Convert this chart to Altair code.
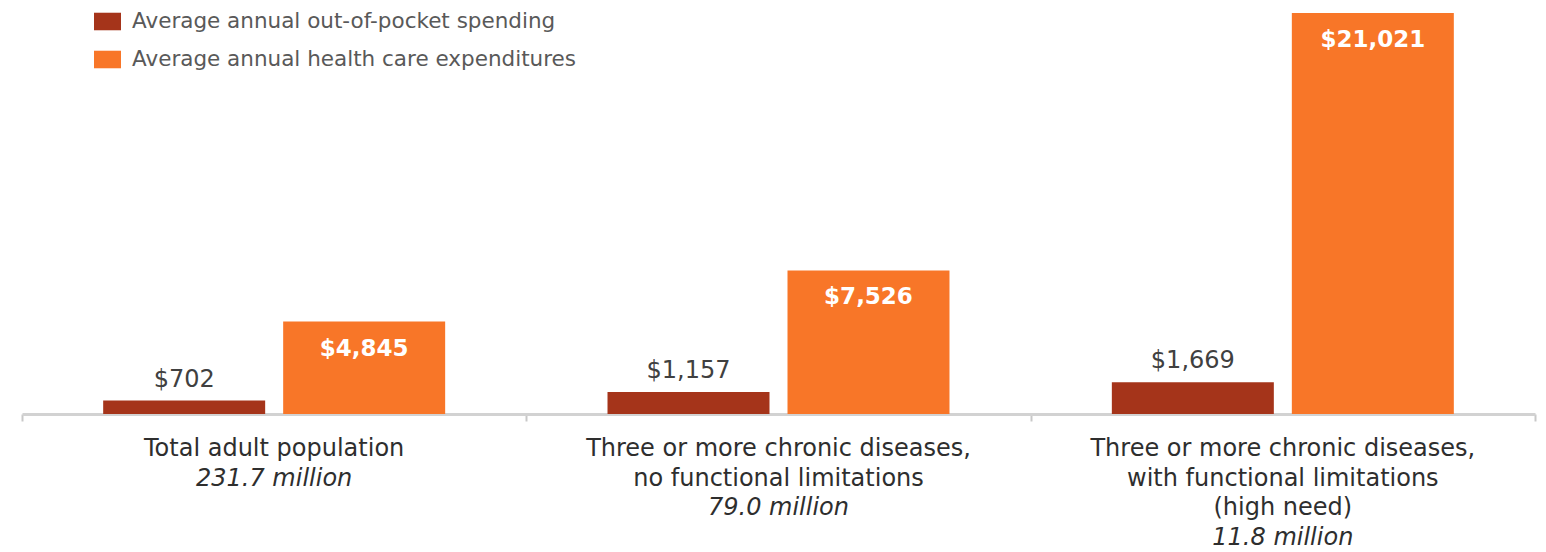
import altair as alt
import pandas as pd

categories = ["Total adult population",
              "Three or more chronic diseases, no functional limitations",
              "Three or more chronic diseases, with functional limitations (high need)"]
category_lines = [["Total adult population"],
                  ["Three or more chronic diseases,", "no functional limitations"],
                  ["Three or more chronic diseases,", "with functional limitations",
                   "(high need)"]]
population = ["231.7 million", "79.0 million", "11.8 million"]
series = ["Average annual out-of-pocket spending",
          "Average annual health care expenditures"]
out_of_pocket = [702, 1157, 1669]
expenditures = [4845, 7526, 21021]
colors = ["#A5341A", "#F87628"]

rows = []
for c, v in zip(categories, out_of_pocket):
    rows.append({"category": c, "series": series[0], "value": v})
for c, v in zip(categories, expenditures):
    rows.append({"category": c, "series": series[1], "value": v})
df = pd.DataFrame(rows)

lab_rows = []
for c, lines, pop in zip(categories, category_lines, population):
    for i, t in enumerate(lines):
        lab_rows.append({"category": c, "line": i, "txt": t, "italic": False})
    lab_rows.append({"category": c, "line": len(lines), "txt": pop, "italic": True})
labels = pd.DataFrame(lab_rows)

FONT = "DejaVu Sans"

x_enc = alt.X("category:N", sort=categories, title=None,
              scale=alt.Scale(paddingInner=0, paddingOuter=0),
              axis=alt.Axis(labels=False, domain=True, domainColor="#d2d2d2",
                            domainWidth=3, ticks=True, tickBand="extent",
                            tickColor="#c8c8c8", tickSize=7, tickWidth=2,
                            grid=False))
xo_enc = alt.XOffset("series:N", sort=series,
                     scale=alt.Scale(paddingInner=0.1, paddingOuter=0.451))
y_enc = alt.Y("value:Q", scale=alt.Scale(domain=[0, 21021]), axis=None)

base = alt.Chart(df).encode(x=x_enc, xOffset=xo_enc, y=y_enc)

bars = base.mark_bar().encode(
    color=alt.Color("series:N", sort=series,
                    scale=alt.Scale(domain=series, range=colors),
                    legend=alt.Legend(title=None, orient="none", legendX=72,
                                      legendY=-5, direction="vertical",
                                      symbolType="M-1,-0.65H1V0.65H-1Z",
                                      symbolSize=729, symbolStrokeWidth=0,
                                      labelFont=FONT, labelFontSize=21.5,
                                      labelColor="#595959", labelOffset=11,
                                      labelLimit=0, rowPadding=14, padding=0))
)

dark_text = base.transform_filter(
    alt.datum.series == series[0]
).mark_text(font=FONT, fontSize=24, color="#404040", baseline="middle", dy=-21).encode(
    text=alt.Text("value:Q", format="$,.0f"))

light_text = base.transform_filter(
    alt.datum.series == series[1]
).mark_text(font=FONT, fontSize=23, fontWeight="bold", color="white",
            baseline="middle", dy=27).encode(
    text=alt.Text("value:Q", format="$,.0f"))

lab_base = alt.Chart(labels).encode(
    x=alt.X("category:N", sort=categories),
    y=alt.Y("line:Q", scale=alt.Scale(domain=[0, 3], range=[424, 513]), axis=None),
    text="txt:N",
)
cat_text = lab_base.transform_filter(~alt.datum.italic).mark_text(
    font=FONT, fontSize=24, color="#2e2e2e", baseline="top", align="center")
pop_text = lab_base.transform_filter(alt.datum.italic).mark_text(
    font=FONT, fontSize=24, fontStyle="italic", color="#2e2e2e",
    baseline="top", align="center")

chart = alt.layer(bars, dark_text, light_text, cat_text, pop_text).resolve_scale(
    y="independent"
).properties(
    width=1513, height=401,
    autosize=alt.AutoSizeParams(type="none"),
    padding={"left": 22, "top": 13, "right": 11, "bottom": 138},
    background="white",
).configure_view(stroke=None)

chart.save("out.html", embed_options={"renderer": "svg", "actions": False})
